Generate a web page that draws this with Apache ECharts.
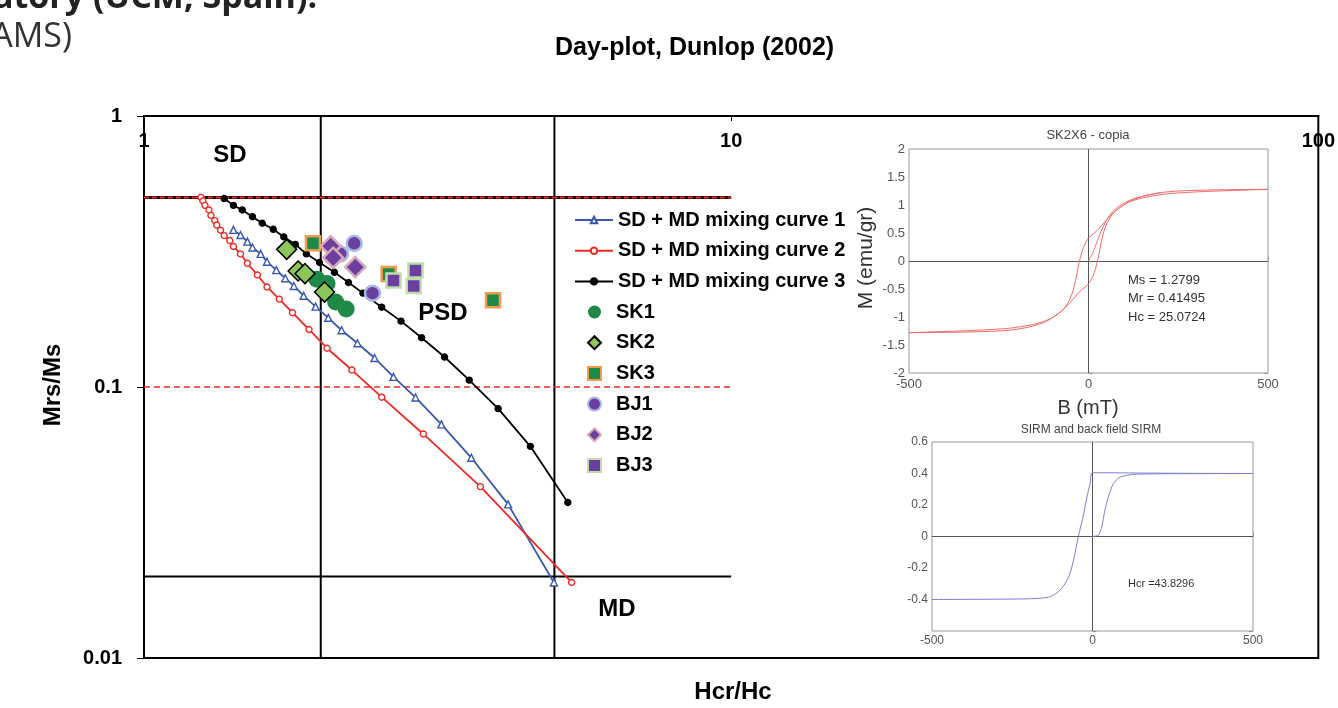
<!DOCTYPE html>
<html>
<head>
    <meta charset="utf-8">
    <title>Day-plot, Dunlop (2002)</title>
    <script src="https://cdn.jsdelivr.net/npm/echarts@6.0.0/dist/echarts.min.js"></script>
    <style>
        html, body {
            margin: 0;
            padding: 0;
            background: #fff;
        }
        #chart {
            width: 1338px;
            height: 708px;
        }
    </style>
</head>
<body>
<div id="chart"></div>
<script>
    // ---- Day plot data (Hcr/Hc, Mrs/Ms) ----
    var xRange = [1, 100];
    var yRange = [0.01, 1];

    var curve1 = [[1.42, 0.380], [1.46, 0.364], [1.50, 0.344], [1.53, 0.327], [1.58, 0.310], [1.62, 0.290],
        [1.68, 0.270], [1.74, 0.252], [1.80, 0.236], [1.87, 0.217], [1.96, 0.198], [2.06, 0.180],
        [2.17, 0.162], [2.31, 0.145], [2.47, 0.128], [2.66, 0.109], [2.90, 0.0915], [3.21, 0.0728],
        [3.61, 0.0548], [4.17, 0.0369], [4.99, 0.0190]];
    var curve2 = [[1.25, 0.501], [1.26, 0.486], [1.27, 0.468], [1.29, 0.450], [1.30, 0.430], [1.32, 0.411],
        [1.33, 0.396], [1.35, 0.379], [1.37, 0.362], [1.40, 0.347], [1.42, 0.330], [1.46, 0.310],
        [1.50, 0.286], [1.56, 0.259], [1.62, 0.234], [1.70, 0.211], [1.79, 0.188], [1.91, 0.163],
        [2.05, 0.139], [2.26, 0.1155], [2.54, 0.0917], [2.99, 0.0671], [3.74, 0.0429], [5.35, 0.0190]];
    var curve3 = [[1.37, 0.496], [1.42, 0.468], [1.47, 0.450], [1.53, 0.425], [1.59, 0.402], [1.66, 0.382],
        [1.73, 0.358], [1.81, 0.336], [1.89, 0.310], [1.99, 0.288], [2.11, 0.265], [2.23, 0.243],
        [2.36, 0.222], [2.54, 0.197], [2.74, 0.175], [2.97, 0.152], [3.25, 0.129], [3.58, 0.106],
        [4.01, 0.0832], [4.55, 0.0604], [5.27, 0.0375]];

    var sk1 = [[1.97, 0.250], [2.05, 0.241], [2.12, 0.206], [2.21, 0.194]];
    var sk2 = [[1.75, 0.322], [1.83, 0.268], [1.88, 0.262], [2.03, 0.224]];
    var sk3 = [[1.94, 0.339], [2.61, 0.261], [3.93, 0.209]];
    var bj1 = [[2.28, 0.339], [2.16, 0.310], [2.45, 0.222]];
    var bj2 = [[2.08, 0.331], [2.10, 0.300], [2.29, 0.277]];
    var bj3 = [[2.90, 0.269], [2.66, 0.247], [2.88, 0.236]];

    var curveNames = ['SD + MD mixing curve 1', 'SD + MD mixing curve 2', 'SD + MD mixing curve 3'];
    var sampleNames = ['SK1', 'SK2', 'SK3', 'BJ1', 'BJ2', 'BJ3'];

    // domain boundaries
    var sdLine = [[1, 0.5], [10, 0.5]];
    var tenthLine = [[1, 0.1], [10, 0.1]];
    var mdLine = [[1, 0.02], [10, 0.02]];
    var hcrLow = [[2, 0.01], [2, 1]];
    var hcrHigh = [[5, 0.01], [5, 1]];

    // ---- inset 1: hysteresis loop SK2X6 (B mT, M emu/gr) ----
    var loopUpper = [[500, 1.28], [350, 1.27], [250, 1.25], [200, 1.22], [160, 1.17], [130, 1.11], [105, 1.03],
        [80, 0.92], [60, 0.80], [40, 0.66], [20, 0.52], [0, 0.41], [-10, 0.30], [-18, 0.17], [-25, 0.0],
        [-30, -0.15], [-36, -0.35], [-44, -0.55], [-55, -0.72], [-70, -0.86], [-90, -0.97], [-120, -1.07],
        [-160, -1.14], [-220, -1.20], [-320, -1.24], [-500, -1.28]];
    var loopLower = [[-500, -1.28], [-350, -1.27], [-250, -1.25], [-200, -1.22], [-160, -1.17], [-130, -1.11],
        [-105, -1.03], [-80, -0.92], [-60, -0.80], [-40, -0.66], [-20, -0.52], [0, -0.41], [10, -0.30],
        [18, -0.17], [25, 0.0], [30, 0.15], [36, 0.35], [44, 0.55], [55, 0.72], [70, 0.86], [90, 0.97],
        [120, 1.07], [160, 1.14], [220, 1.20], [320, 1.24], [500, 1.28]];
    var loopInitial = [[0, 0], [10, 0.12], [20, 0.28], [30, 0.45], [40, 0.60], [55, 0.78], [75, 0.93],
        [100, 1.04], [130, 1.12], [160, 1.17], [200, 1.22]];

    // ---- inset 2: SIRM and back field ----
    var irmCurve = [[0, 0], [10, 0.003], [19, 0.01], [29, 0.064], [39, 0.17], [50, 0.255], [65, 0.336],
        [86, 0.377], [128, 0.394], [211, 0.398], [500, 0.40]];
    var backField = [[500, 0.40], [300, 0.401], [150, 0.403], [0, 0.405], [-7, 0.34], [-18, 0.245],
        [-28, 0.138], [-44, 0.0], [-59, -0.149], [-70, -0.234], [-85, -0.298], [-101, -0.34],
        [-121, -0.372], [-142, -0.387], [-205, -0.396], [-500, -0.40]];

    var font = '"Liberation Sans", Arial, sans-serif';
    var black = '#000';
    var blue = '#3a58b0';
    var red = '#ee2a24';
    var green = '#1e8a47';
    var purple = '#6b3fa0';

    function boundary(data, color, width, dash) {
        return {
            type: 'line', data: data, xAxisIndex: 0, yAxisIndex: 0,
            showSymbol: false, silent: true, z: 1,
            lineStyle: {color: color, width: width, type: dash || 'solid'}
        };
    }

    function mixing(name, data, color, symbol, size, fill) {
        return {
            name: name, type: 'line', data: data, xAxisIndex: 0, yAxisIndex: 0,
            symbol: symbol, symbolSize: size, showSymbol: true, z: 3,
            lineStyle: {color: color, width: 1.8},
            itemStyle: {color: fill, borderColor: color, borderWidth: 1.4}
        };
    }

    function samples(name, data, symbol, size, fill, border, bw) {
        return {
            name: name, type: 'scatter', data: data, xAxisIndex: 0, yAxisIndex: 0,
            symbol: symbol, symbolSize: size, z: 4,
            itemStyle: {color: fill, borderColor: border, borderWidth: bw, opacity: 1}
        };
    }

    function insetLine(data, xi, yi, color) {
        return {
            type: 'line', data: data, xAxisIndex: xi, yAxisIndex: yi,
            showSymbol: false, silent: true, smooth: 0.25, z: 6,
            lineStyle: {color: color, width: 1}
        };
    }

    var zeroLines = {
        silent: true, symbol: 'none', label: {show: false},
        lineStyle: {color: '#555', width: 1, type: 'solid'},
        data: [{xAxis: 0}, {yAxis: 0}]
    };

    var insetTick = {show: true, inside: true, length: 4, lineStyle: {color: '#888'}};
    var legendText = {fontFamily: font, fontWeight: 'bold', fontSize: 20, lineHeight: 20, color: black};

    var myChart = echarts.init(document.getElementById('chart'));

    var option = {
        animation: false,
        backgroundColor: '#fff',
        title: {
            text: 'Day-plot, Dunlop (2002)',
            left: 555,
            top: 36,
            padding: 0,
            textStyle: {fontFamily: font, fontWeight: 'bold', fontSize: 25, color: black}
        },
        legend: [
            {
                data: curveNames, orient: 'vertical', left: 574, top: 210, padding: 0,
                itemWidth: 38, itemHeight: 8, itemGap: 10.7, selectedMode: false, textStyle: legendText
            },
            {
                // square icon box, text pushed right to line up with the curve labels
                data: sampleNames, orient: 'vertical', left: 587, top: 302, padding: 0,
                itemWidth: 13, itemHeight: 13, itemGap: 10.7, selectedMode: false,
                textStyle: Object.assign({padding: [0, 0, 0, 10]}, legendText)
            }
        ],
        grid: [
            {left: 144, top: 116, width: 1176, height: 542, show: true, borderColor: black, borderWidth: 2},
            {left: 909, top: 149, width: 359, height: 224, show: true, borderColor: '#999', borderWidth: 1,
                backgroundColor: '#fff', z: 5},
            {left: 932, top: 442, width: 321, height: 189, show: true, borderColor: '#999', borderWidth: 1,
                backgroundColor: '#fff', z: 5}
        ],
        xAxis: [
            {
                type: 'log', logBase: 10, gridIndex: 0, position: 'top', min: xRange[0], max: xRange[1],
                axisLine: {show: true, lineStyle: {color: black, width: 2}},
                axisTick: {show: true, inside: true, length: 5, lineStyle: {color: black}},
                minorTick: {show: false},
                axisLabel: {inside: true, margin: 15, fontFamily: font, fontWeight: 'bold', fontSize: 20, color: black},
                splitLine: {show: false}
            },
            {
                type: 'value', gridIndex: 1, min: -500, max: 500, interval: 500,
                axisLine: {show: false}, axisTick: insetTick, splitLine: {show: false},
                axisLabel: {margin: 5, fontFamily: font, fontSize: 13, color: '#555'}
            },
            {
                type: 'value', gridIndex: 2, min: -500, max: 500, interval: 500,
                axisLine: {show: false}, axisTick: insetTick, splitLine: {show: false},
                axisLabel: {margin: 4, fontFamily: font, fontSize: 12, color: '#555'}
            }
        ],
        yAxis: [
            {
                type: 'log', logBase: 10, gridIndex: 0, min: yRange[0], max: yRange[1],
                axisLine: {show: true, lineStyle: {color: black, width: 2}},
                axisTick: {show: true, length: 7, lineStyle: {color: black}},
                minorTick: {show: false},
                axisLabel: {margin: 22, fontFamily: font, fontWeight: 'bold', fontSize: 20, color: black},
                splitLine: {show: false}
            },
            {
                type: 'value', gridIndex: 1, min: -2, max: 2, interval: 0.5,
                axisLine: {show: false}, axisTick: insetTick, splitLine: {show: false},
                axisLabel: {margin: 4, fontFamily: font, fontSize: 13, color: '#555'}
            },
            {
                type: 'value', gridIndex: 2, min: -0.6, max: 0.6, interval: 0.2,
                axisLine: {show: false}, axisTick: insetTick, splitLine: {show: false},
                axisLabel: {
                    margin: 4, fontFamily: font, fontSize: 12, color: '#555',
                    formatter: function (v) { return v < -0.55 ? '' : String(+v.toFixed(1)); }
                }
            },
            {
                type: 'value', gridIndex: 1, position: 'right', min: -2, max: 2, interval: 0.5,
                axisLine: {show: false}, axisTick: insetTick, axisLabel: {show: false}, splitLine: {show: false}
            },
            {
                type: 'value', gridIndex: 2, position: 'right', min: -0.6, max: 0.6, interval: 0.2,
                axisLine: {show: false}, axisTick: insetTick, axisLabel: {show: false}, splitLine: {show: false}
            }
        ],
        series: [
            boundary(hcrLow, black, 2),
            boundary(hcrHigh, black, 2),
            boundary(mdLine, black, 2),
            boundary(tenthLine, red, 1.5, [6, 4]),
            boundary(sdLine, black, 3),
            boundary(sdLine, red, 2, [5, 3]),

            mixing(curveNames[0], curve1, blue, 'triangle', 7, '#fff'),
            mixing(curveNames[1], curve2, red, 'circle', 6, '#fff'),
            mixing(curveNames[2], curve3, black, 'circle', 6, black),

            samples('SK1', sk1, 'circle', 17, green, green, 0),
            samples('SK2', sk2, 'diamond', 20, '#8cc65a', black, 1.5),
            samples('SK3', sk3, 'rect', 14, green, '#f39a4e', 2.5),
            samples('BJ1', bj1, 'circle', 15, purple, '#a9b9e4', 2.5),
            samples('BJ2', bj2, 'diamond', 20, purple, '#d7a9b8', 2.5),
            samples('BJ3', bj3, 'rect', 14, purple, '#c0dcae', 2.5),

            Object.assign(insetLine(loopUpper, 1, 1, '#f26a6a'), {markLine: zeroLines}),
            insetLine(loopLower, 1, 1, '#f26a6a'),
            insetLine(loopInitial, 1, 1, '#f26a6a'),

            Object.assign(insetLine(irmCurve, 2, 2, '#7f7fcf'), {markLine: zeroLines}),
            insetLine(backField, 2, 2, '#7f7fcf')
        ],
        graphic: [
            // bits of the slide around the figure
            {type: 'text', x: -7, y: 15, z: 100, style: {text: 'atory (UCM, Spain).', font: 'bold 34px "Open Sans"', fill: '#222', align: 'left', verticalAlign: 'bottom'}},
            {type: 'text', x: 72, y: 37, z: 100, style: {text: 'AMS)', font: '34px "Open Sans"', fill: '#333', align: 'right', verticalAlign: 'middle'}},

            // domain labels and axis names of the Day plot
            {type: 'text', x: 230, y: 155, z: 100, style: {text: 'SD', font: 'bold 24px ' + font, fill: black, align: 'center', verticalAlign: 'middle'}},
            {type: 'text', x: 443, y: 313, z: 100, style: {text: 'PSD', font: 'bold 24px ' + font, fill: black, align: 'center', verticalAlign: 'middle'}},
            {type: 'text', x: 617, y: 609, z: 100, style: {text: 'MD', font: 'bold 24px ' + font, fill: black, align: 'center', verticalAlign: 'middle'}},
            {type: 'text', x: 733, y: 692, z: 100, style: {text: 'Hcr/Hc', font: 'bold 24px ' + font, fill: black, align: 'center', verticalAlign: 'middle'}},
            {type: 'text', x: 53, y: 385, rotation: Math.PI / 2, z: 100, style: {text: 'Mrs/Ms', font: 'bold 24px ' + font, fill: black, align: 'center', verticalAlign: 'middle'}},

            // hysteresis inset texts
            {type: 'text', x: 1088, y: 135, z: 100, style: {text: 'SK2X6 - copia', font: '13px ' + font, fill: '#444', align: 'center', verticalAlign: 'middle'}},
            {type: 'text', x: 866, y: 258, rotation: Math.PI / 2, z: 100, style: {text: 'M (emu/gr)', font: '21px ' + font, fill: '#333', align: 'center', verticalAlign: 'middle'}},
            {type: 'text', x: 1088, y: 408, z: 100, style: {text: 'B (mT)', font: '20px ' + font, fill: '#333', align: 'center', verticalAlign: 'middle'}},
            {type: 'text', x: 1128, y: 280, z: 100, style: {text: 'Ms = 1.2799', font: '13px ' + font, fill: '#333', align: 'left', verticalAlign: 'middle'}},
            {type: 'text', x: 1128, y: 298, z: 100, style: {text: 'Mr = 0.41495', font: '13px ' + font, fill: '#333', align: 'left', verticalAlign: 'middle'}},
            {type: 'text', x: 1128, y: 317, z: 100, style: {text: 'Hc = 25.0724', font: '13px ' + font, fill: '#333', align: 'left', verticalAlign: 'middle'}},

            // SIRM inset texts
            {type: 'text', x: 1091, y: 430, z: 100, style: {text: 'SIRM and back field SIRM', font: '12px ' + font, fill: '#444', align: 'center', verticalAlign: 'middle'}},
            {type: 'text', x: 1128, y: 584, z: 100, style: {text: 'Hcr =43.8296', font: '11px ' + font, fill: '#333', align: 'left', verticalAlign: 'middle'}}
        ]
    };

    myChart.setOption(option);
</script>
</body>
</html>
